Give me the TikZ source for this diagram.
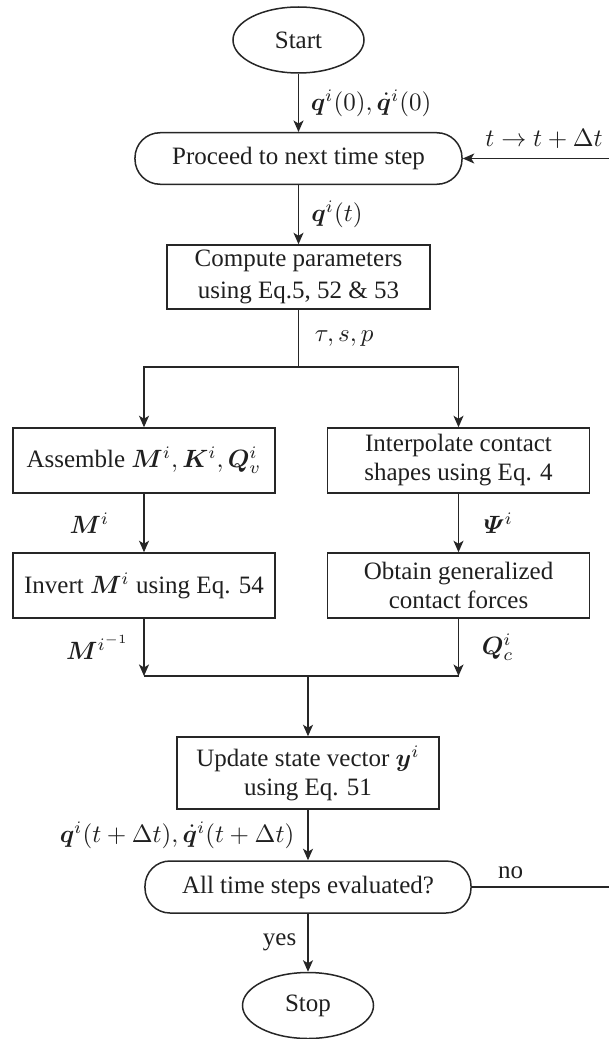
\documentclass[tikz,border=0pt]{standalone}
\usepackage{amsmath}
\usepackage{bm}
\usepackage{fontspec}
\setmainfont{Liberation Serif}
\usetikzlibrary{arrows.meta,shapes.geometric,positioning}
\tikzset{
  base/.style={draw=black!85, line width=0.6pt, text=black!88, font=\fontsize{10}{11.6}\selectfont, align=center, inner sep=0pt},
  oval/.style={base, ellipse, minimum width=52.4pt, minimum height=26.4pt},
  pill/.style={base, rectangle, rounded corners=10pt, minimum height=20.6pt},
  box/.style={base, rectangle, minimum width=104.8pt, minimum height=26pt},
  arr/.style={draw=black!85, line width=0.6pt, -{Stealth[length=4.6pt,width=4pt,inset=1.2pt]}},
  ln/.style={draw=black!85, line width=0.6pt},
  lbl/.style={font=\fontsize{10}{11.6}\selectfont, text=black!88, inner sep=0pt}
}
\begin{document}
\begin{tikzpicture}[x=0.4pt,y=-0.4pt]
\useasboundingbox (0,0) rectangle (608,1039);
\node[oval] (start) at (298.5,40) {Start};
\node[pill, minimum width=130.8pt] (proceed) at (298.5,158.5) {Proceed to next time step};
\node[box, minimum width=105.2pt, minimum height=25.6pt, font=\fontsize{10}{12.6}\selectfont] (compute) at (298.5,277) {Compute parameters\\using Eq.5, 52 \& 53};
\coordinate (split) at (298.5,367);
\node[box] (asm) at (144,460.5) {Assemble $\bm{M}^{i}, \bm{K}^{i}, \bm{Q}_{v}^{i}$};
\node[box] (interp) at (458.5,460.5) {Interpolate contact\\shapes using Eq. 4};
\node[box] (inv) at (144,585.5) {Invert $\bm{M}^{i}$ using Eq. 54};
\node[box] (obt) at (458.5,585.5) {Obtain generalized\\contact forces};
\coordinate (merge) at (308,676);
\node[box, minimum height=28.8pt] (upd) at (308,773) {Update state vector $\bm{y}^{i}$\\using Eq. 51};
\node[pill, minimum width=130.4pt, minimum height=20.8pt] (dec) at (308,887) {All time steps evaluated?};
\node[oval] (stop) at (308,1005.5) {Stop};
\coordinate (loopR) at (616,887);
\coordinate (loopT) at (616,158.5);

\draw[arr] (start) -- node[lbl, midway, anchor=west, xshift=4.6pt] {$\bm{q}^{i}(0), \dot{\bm{q}}^{i}(0)$} (proceed);
\draw[arr] (proceed) -- node[lbl, midway, anchor=west, xshift=4.8pt] {$\bm{q}^{i}(t)$} (compute);
\draw[ln] (compute) -- node[lbl, midway, anchor=west, xshift=6.2pt] {$\tau, s, p$} (split);
\draw[arr] (split) -| (asm.north);
\draw[arr] (split) -| (interp.north);
\draw[arr] (asm) -- node[lbl, midway, anchor=east, xshift=-13.6pt] {$\bm{M}^{i}$} (inv);
\draw[arr] (interp) -- node[lbl, midway, anchor=west, xshift=9.8pt] {$\bm{\varPsi}^{i}$} (obt);
\draw[arr] (inv.south) -- node[lbl, midway, anchor=east, xshift=-5.6pt] {$\bm{M}^{i^{-1}}$} (inv.south |- merge);
\draw[arr] (obt.south) -- node[lbl, midway, anchor=west, xshift=9pt] {$\bm{Q}_{c}^{i}$} (obt.south |- merge);
\draw[ln] (inv.south |- merge) -- (obt.south |- merge);
\draw[arr] (merge) -- (upd);
\draw[arr] (upd) -- node[lbl, midway, anchor=east, xshift=-5.2pt] {$\bm{q}^{i}(t+\Delta t), \dot{\bm{q}}^{i}(t+\Delta t)$} (dec);
\draw[arr] (dec) -- node[lbl, midway, anchor=east, xshift=-4.4pt] {yes} (stop);
\draw[arr] (dec.east) -- node[lbl, pos=0.27, anchor=base, yshift=3.4pt] {no} (loopR) -- (loopT) -- node[lbl, pos=0.47, anchor=base, yshift=4.8pt] {$t \rightarrow t + \Delta t$} (proceed.east);
\end{tikzpicture}
\end{document}
